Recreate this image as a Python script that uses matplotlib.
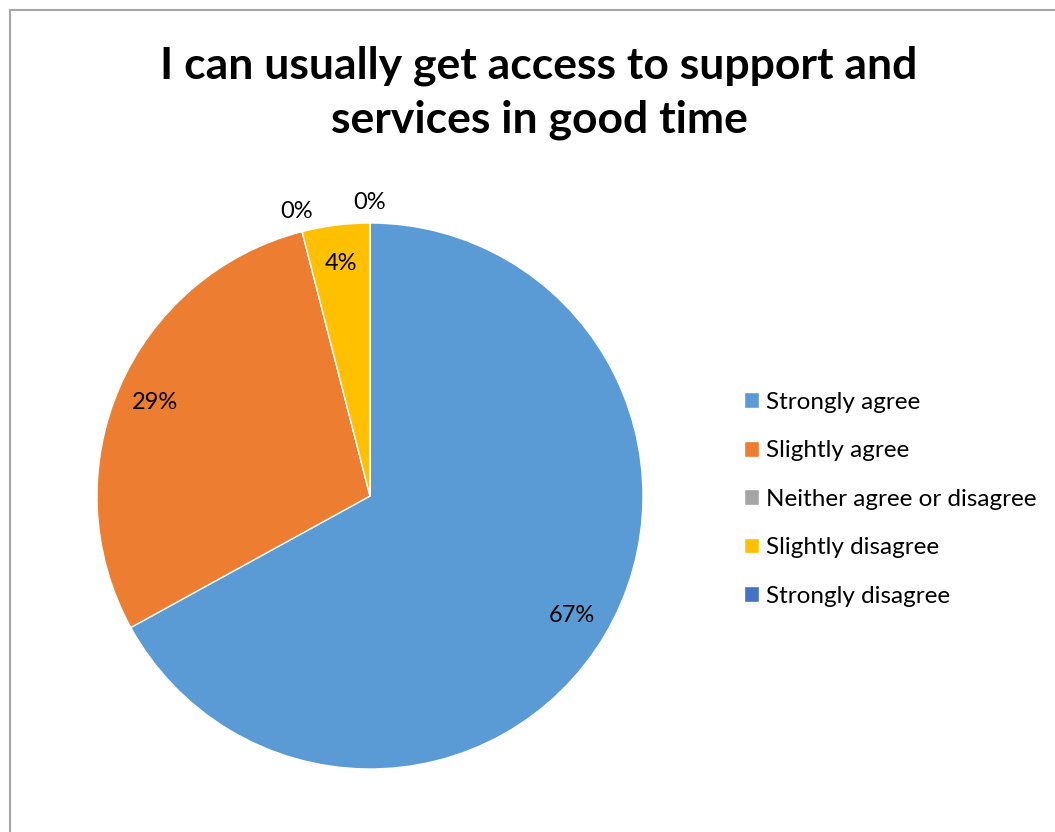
import matplotlib.pyplot as plt
from matplotlib.patches import Rectangle
import numpy as np

# survey answers, percent of respondents
categories = ['Strongly agree', 'Slightly agree', 'Neither agree or disagree',
              'Slightly disagree', 'Strongly disagree']
values = [67, 29, 0, 4, 0]
colors = ['#5B9BD5', '#ED7D31', '#A5A5A5', '#FFC000', '#4472C4']
title = 'I can usually get access to support and\nservices in good time'

plt.rcParams['font.family'] = ['Lato', 'DejaVu Sans']

W, H = 1055, 832
fig = plt.figure(figsize=(W / 100, H / 100), dpi=100)

# chart border (cropped on right and bottom)
fig.add_artist(Rectangle((10 / W, -0.1), 1.2, (H - 10) / H + 0.1,
                         transform=fig.transFigure, fill=False,
                         edgecolor='#a6a6a6', lw=1.5))

fig.text(539 / W, 1 - 93 / H, title, ha='center', va='center',
         fontsize=32, fontweight='bold', linespacing=1.42)

# pie axes, square in pixels
cx, cy, r = 370, 496, 273
ax = fig.add_axes([(cx - r) / W, (H - cy - r) / H, 2 * r / W, 2 * r / H])
wedges, _ = ax.pie(values, colors=colors, startangle=90, counterclock=False,
                   radius=1, wedgeprops=dict(edgecolor='white', linewidth=1))
ax.set_xlim(-1, 1)
ax.set_ylim(-1, 1)
ax.set_aspect('equal')
ax.axis('off')

total = sum(values)
for w, v in zip(wedges, values):
    mid = np.deg2rad((w.theta1 + w.theta2) / 2)
    d = 0.86 if v > 0 else 1.075
    ax.text(d * np.cos(mid), d * np.sin(mid), f'{round(100 * v / total)}%',
            ha='center', va='center', fontsize=17, color='black')

fig.legend(wedges, categories, loc='upper left',
           bbox_to_anchor=(734 / W, 1 - 382 / H), frameon=False,
           fontsize=17.5, handlelength=0.62, handleheight=0.62,
           handletextpad=0.3, labelspacing=1.13, borderaxespad=0)

fig.savefig('out.png', dpi=100, facecolor='white')
